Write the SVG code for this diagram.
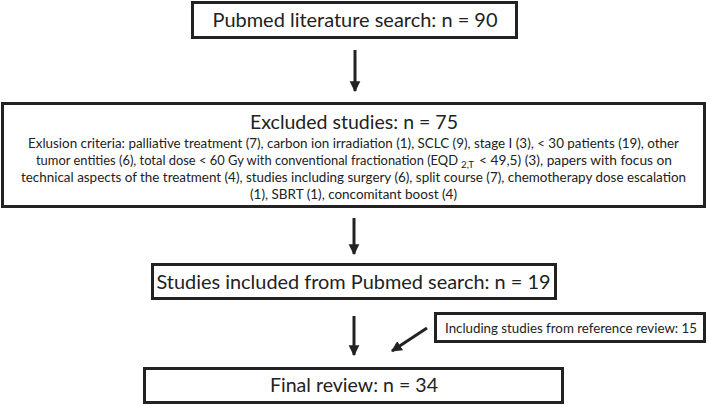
<svg xmlns="http://www.w3.org/2000/svg" width="709" height="405" viewBox="0 0 709 405">
<defs>
<style>
.box{fill:#fff;stroke:#222;stroke-width:3}
.t{font-family:Lato,"Open Sans","Liberation Sans",sans-serif;fill:#222;text-anchor:middle}
.s{text-anchor:start}
.big{font-size:20px}
.small{font-size:13.5px}
.sm2{font-size:12.8px}
.sub{font-size:9px}
.conn{stroke:#222;stroke-width:3;fill:none}
</style>
<marker id="ah" viewBox="0 0 10 10" refX="9" refY="5" markerWidth="3.6" markerHeight="4" orient="auto" markerUnits="strokeWidth">
<path d="M0,0 L10,5 L0,10 z" fill="#222"/>
</marker>
</defs>
<rect width="709" height="405" fill="#fff"/>
<g id="connectors">
<line class="conn" x1="355" y1="50" x2="355" y2="91" marker-end="url(#ah)"/>
<line class="conn" x1="354" y1="218" x2="354" y2="254" marker-end="url(#ah)"/>
<line class="conn" x1="354" y1="316" x2="354" y2="355" marker-end="url(#ah)"/>
<line class="conn" x1="427" y1="328" x2="392" y2="351" marker-end="url(#ah)"/>
</g>
<g id="pubmed">
<rect class="box" x="192.5" y="2.5" width="324" height="35"/>
<text class="t big" x="355" y="27" textLength="285" lengthAdjust="spacingAndGlyphs">Pubmed literature search: n = 90</text>
</g>
<g id="excluded">
<rect class="box" x="2.5" y="103.5" width="702" height="103"/>
<text class="t big" x="354" y="129" textLength="208" lengthAdjust="spacingAndGlyphs">Excluded studies: n = 75</text>
<text class="t small" x="353.5" y="148" textLength="651" lengthAdjust="spacingAndGlyphs">Exlusion criteria: palliative treatment (7), carbon ion irradiation (1), SCLC (9), stage I (3), &lt; 30 patients (19), other</text>
<text class="t s sm2" x="36" y="165" textLength="422" lengthAdjust="spacingAndGlyphs">tumor entities (6), total dose &lt; 60 Gy with conventional fractionation (EQD</text>
<text class="t s sub" x="461" y="167.5" textLength="13" lengthAdjust="spacingAndGlyphs">2,T</text>
<text class="t s sm2" x="479" y="165" textLength="193" lengthAdjust="spacingAndGlyphs">&lt; 49,5) (3), papers with focus on</text>
<text class="t small" x="353.5" y="182" textLength="665" lengthAdjust="spacingAndGlyphs">technical aspects of the treatment (4), studies including surgery (6), split course (7), chemotherapy dose escalation</text>
<text class="t small" x="353.5" y="199" textLength="207" lengthAdjust="spacingAndGlyphs">(1), SBRT (1), concomitant boost (4)</text>
</g>
<g id="included">
<rect class="box" x="152.5" y="264.5" width="403" height="34"/>
<text class="t big" x="353.5" y="289" textLength="394" lengthAdjust="spacingAndGlyphs">Studies included from Pubmed search: n = 19</text>
</g>
<g id="reference">
<rect class="box" x="435.5" y="313.5" width="269" height="28"/>
<text class="t small" x="571" y="333" textLength="252" lengthAdjust="spacingAndGlyphs">Including studies from reference review: 15</text>
</g>
<g id="final">
<rect class="box" x="144.5" y="368.5" width="418" height="34"/>
<text class="t big" x="354" y="392" textLength="168" lengthAdjust="spacingAndGlyphs">Final review: n = 34</text>
</g>
</svg>
